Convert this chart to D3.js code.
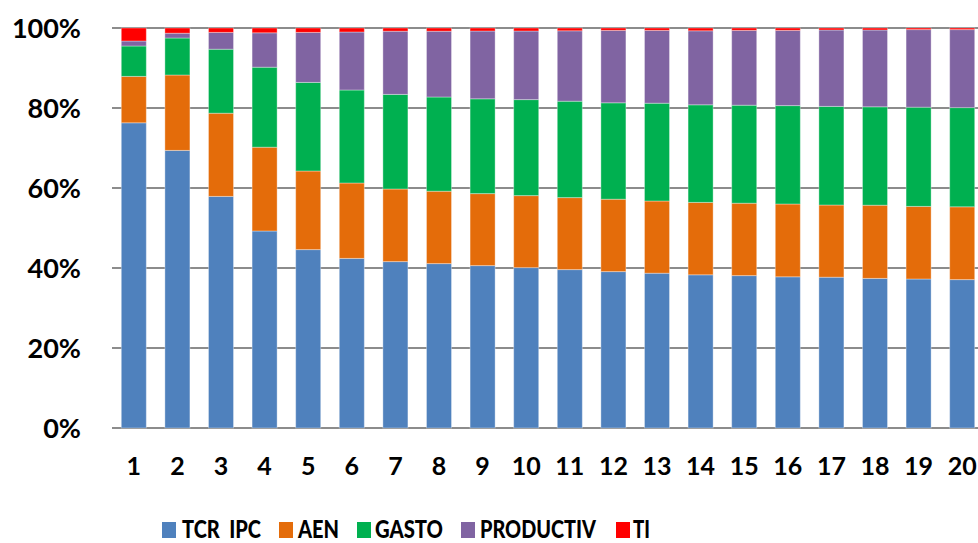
<!DOCTYPE html>
<html>
<head>
<meta charset="utf-8">
<script src="https://cdn.jsdelivr.net/npm/d3@7"></script>
<style>
body { margin: 0; background: #fff; }
svg { display: block; }
text { font-family: Lato, "Open Sans", sans-serif; font-weight: bold; fill: #000; }
text.leg { font-weight: 900; }
</style>
</head>
<body>
<svg id="chart" width="978" height="543"></svg>
<script>
const categories = ["1","2","3","4","5","6","7","8","9","10","11","12","13","14","15","16","17","18","19","20"];
const seriesNames = ["TCR  IPC", "AEN", "GASTO", "PRODUCTIV", "TI"];
const tcr       = [76.3, 69.4, 57.9, 49.25, 44.6, 42.4, 41.6, 41.1, 40.6, 40.1, 39.6, 39.1, 38.7, 38.3, 38.1, 37.8, 37.7, 37.4, 37.25, 37.1];
const aen       = [11.6, 18.85, 20.8, 20.95, 19.65, 18.85, 18.15, 18.1, 18.0, 18.0, 18.0, 18.1, 18.05, 18.1, 18.1, 18.2, 18.05, 18.3, 18.15, 18.2];
const gasto     = [7.6, 9.25, 16.0, 20.0, 22.15, 23.25, 23.65, 23.55, 23.7, 24.0, 24.1, 24.1, 24.45, 24.4, 24.5, 24.6, 24.65, 24.6, 24.8, 24.8];
const productiv = [1.25, 1.2, 4.2, 8.6, 12.5, 14.5, 15.8, 16.45, 16.95, 17.15, 17.6, 18.1, 18.2, 18.5, 18.7, 18.8, 19.1, 19.2, 19.4, 19.5];
const ti        = [3.25, 1.3, 1.1, 1.2, 1.1, 1.0, 0.8, 0.8, 0.75, 0.75, 0.7, 0.6, 0.6, 0.7, 0.6, 0.6, 0.5, 0.5, 0.4, 0.4];
const yTicks = [0, 20, 40, 60, 80, 100];
const colors = ["#4F81BD", "#E46C0A", "#00B050", "#8064A2", "#FF0000"];

const seriesValues = [tcr, aen, gasto, productiv, ti];
const keys = ["s0","s1","s2","s3","s4"];
const table = categories.map((c, i) => {
  const row = { cat: c };
  let tot = 0;
  seriesValues.forEach(v => tot += v[i]);
  keys.forEach((k, j) => row[k] = seriesValues[j][i] / tot * 100);
  return row;
});

const svg = d3.select("#chart");
const mLeft = 112, mRight = 984, mTop = 28, mBottom = 428;

const x = d3.scaleBand().domain(categories).range([mLeft, mRight]).paddingInner(0.426).paddingOuter(0.213);
const y = d3.scaleLinear().domain([0, 100]).range([mBottom, mTop]);

// gridlines
svg.append("g").selectAll("line").data(yTicks).join("line")
  .attr("x1", mLeft).attr("x2", 978)
  .attr("y1", d => y(d)).attr("y2", d => y(d))
  .attr("stroke", "#8c8c8c").attr("stroke-width", 2);

const stack = d3.stack().keys(keys)(table);
svg.append("g").selectAll("g").data(stack).join("g")
  .attr("fill", (d, i) => colors[i])
  .selectAll("rect").data(d => d).join("rect")
  .attr("x", d => x(d.data.cat))
  .attr("width", x.bandwidth())
  .attr("y", d => y(d[1]))
  .attr("height", d => y(d[0]) - y(d[1]))
  .attr("stroke", "rgba(255,255,255,0.35)")
  .attr("stroke-width", 1);

// y axis labels
svg.append("g").selectAll("text").data(yTicks).join("text")
  .attr("x", 81).attr("y", d => y(d))
  .attr("dy", "0.36em")
  .attr("text-anchor", "end")
  .style("font-size", "27px")
  .text(d => d + "%");

// x axis labels
svg.append("g").selectAll("text").data(categories).join("text")
  .attr("x", d => x(d) + x.bandwidth() / 2)
  .attr("y", 475)
  .attr("text-anchor", "middle")
  .style("font-size", "25px")
  .text(d => d);

// legend
const legendItems = [
  { sx: 162, tx: 182, tw: 79 },
  { sx: 279, tx: 298, tw: 41 },
  { sx: 357, tx: 375, tw: 68 },
  { sx: 461, tx: 480, tw: 116 },
  { sx: 616, tx: 633, tw: 17 }
];
const lg = svg.append("g");
seriesNames.forEach((name, i) => {
  lg.append("rect").attr("x", legendItems[i].sx).attr("y", 522).attr("width", 14).attr("height", 16).attr("fill", colors[i]);
  lg.append("text").attr("class", "leg").attr("x", legendItems[i].tx).attr("y", 538)
    .style("font-size", "24px")
    .attr("textLength", legendItems[i].tw)
    .attr("lengthAdjust", "spacingAndGlyphs")
    .style("white-space", "pre")
    .text(name);
});
</script>
</body>
</html>
